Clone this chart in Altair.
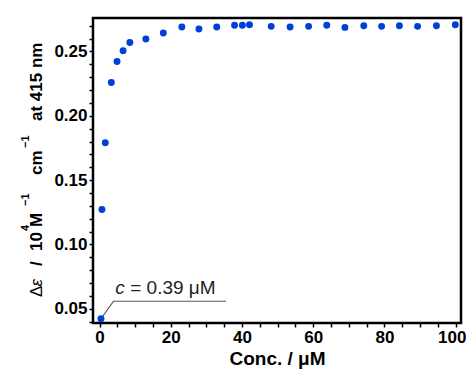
import altair as alt
import pandas as pd

# data
conc = [0.39, 0.67, 1.6, 3.3, 4.9, 6.6, 8.5, 13.0, 17.9, 23.1, 27.9, 32.9, 37.9,
        40.1, 42.1, 48.2, 53.5, 58.7, 63.8, 68.9, 74.2, 79.2, 84.2, 89.3, 94.6, 99.9]
delta_eps = [0.0423, 0.1272, 0.1791, 0.2259, 0.2422, 0.2505, 0.2570, 0.2597, 0.2643,
             0.2690, 0.2674, 0.2690, 0.2703, 0.2703, 0.2708, 0.2695, 0.2690, 0.2695,
             0.2703, 0.2687, 0.2700, 0.2695, 0.2700, 0.2695, 0.2700, 0.2708]

x_ticks = list(range(0, 101, 5))
y_ticks = [round(0.04 + 0.01 * i, 2) for i in range(24)]
y_labels = ["0.05", "0.10", "0.15", "0.20", "0.25"]

# annotation (data coordinates)
lead_x = [0.39, 3.9, 35.5]
lead_y = [0.0423, 0.0559, 0.0559]

df = pd.DataFrame({"conc": conc, "de": delta_eps})
lead = pd.DataFrame({"conc": lead_x, "de": lead_y, "o": [0, 1, 2]})
one = pd.DataFrame({"conc": [0.0], "de": [0.0]})

FONT = "Arial"
xs = alt.Scale(domain=[-1.85, 101.5], nice=False, zero=False)
ys = alt.Scale(domain=[0.039, 0.276], nice=False, zero=False)

xax = alt.Axis(values=x_ticks, labelExpr="datum.value % 20 == 0 ? datum.label : ''",
               title="Conc. / μM", titleFontSize=19, titleFont=FONT, titleFontWeight="bold",
               titlePadding=4, labelFlush=False, labelOverlap=False,
               labelOffset={"condition": {"test": "datum.value == 100", "value": -4}, "value": 0})
ylab_js = "[" + ",".join("'%s'" % s for s in y_labels) + "]"
yax = alt.Axis(values=y_ticks,
               labelExpr="indexof(%s, format(datum.value, '.2f')) >= 0 ? format(datum.value, '.2f') : ''" % ylab_js,
               title=None, labelFlush=False, labelOverlap=False)

X = alt.X("conc:Q", scale=xs, axis=xax)
Y = alt.Y("de:Q", scale=ys, axis=yax)

lines = alt.Chart(lead).mark_line(color="#555555", strokeWidth=1.2).encode(
    x=X, y=Y, order="o:Q")

points = alt.Chart(df).mark_point(filled=True, size=48, color="#0040d8", opacity=1).encode(
    x=X, y=Y)

ann = pd.DataFrame({"conc": [4.4], "de": [0.0617]})
ann2 = pd.DataFrame({"conc": [8.6], "de": [0.0617]})
ann_c = alt.Chart(ann).mark_text(text="c", font=FONT, fontSize=19, fontStyle="italic",
                                 align="left", baseline="alphabetic", color="#222222").encode(
    x=X, y=Y)
ann_rest = alt.Chart(ann2).mark_text(text="= 0.39 μM", font=FONT, fontSize=19,
                                     align="left", baseline="alphabetic", color="#222222").encode(
    x=X, y=Y)


def ytitle(txt, px, py, size=17, weight="bold", style="normal"):
    return alt.Chart(one).mark_text(text=txt, font=FONT, fontSize=size, fontWeight=weight,
                                    fontStyle=style, angle=270, align="left",
                                    baseline="middle", color="black").encode(
        x=alt.value(px), y=alt.value(py))


MX = -55.7
SX = -67.5
title_layers = [
    ytitle("Δ", MX, 279, weight="normal"),
    ytitle("ε", MX, 268.5, weight="normal", style="italic"),
    ytitle("/", MX, 248),
    ytitle("10", MX, 233),
    ytitle("4", SX, 213, size=11),
    ytitle("M", MX, 209),
    ytitle("−1", SX, 188, size=11),
    ytitle("cm", MX, 157),
    ytitle("−1", SX, 130, size=11),
    ytitle("at 415 nm", MX, 103),
]

chart = alt.layer(lines, points, ann_c, ann_rest, *title_layers).properties(
    width=368, height=305,
    autosize=alt.AutoSizeParams(type="none"),
    padding={"left": 85, "top": 10, "right": 5, "bottom": 48},
).configure_view(stroke="black", strokeWidth=2.5).configure_axis(
    labelFont=FONT, labelFontSize=17, labelFontWeight="bold", labelColor="black",
    tickColor="black", tickWidth=1.5, tickSize=4, domain=False, grid=False,
    labelPadding=2, labelOverlap=False,
)

chart.save("out.html", embed_options={"renderer": "svg", "actions": False})
